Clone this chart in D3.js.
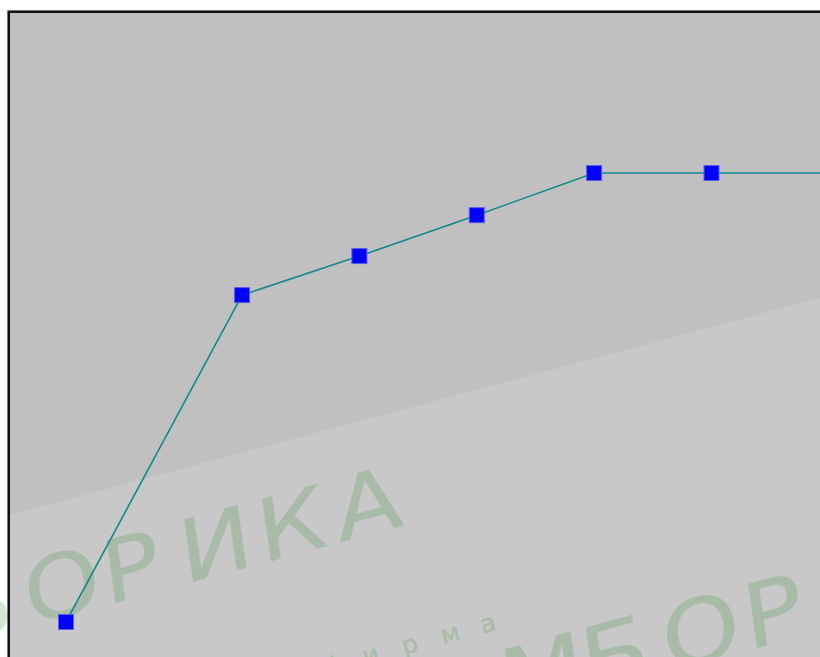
<!DOCTYPE html>
<html>
<head>
<meta charset="utf-8">
<script src="https://cdn.jsdelivr.net/npm/d3@7/dist/d3.min.js"></script>
<style>
  html, body { margin: 0; padding: 0; background: #ffffff; overflow: hidden; }
  svg { display: block; }
</style>
</head>
<body>
<svg id="chart" width="820" height="657"></svg>
<script>
// ---- data ----
const xValues = [0, 1.5, 2.5, 3.5, 4.5, 5.5, 6.5];
const yValues = [0, 72.8, 81.5, 90.6, 100, 100, 100];
const watermarkWords = ["БОРИКА", "фирма", "МБОРИКА"];

const W = 820, H = 657;
const svg = d3.select("#chart");

// scales (plot region extends beyond the visible window on right/bottom)
const x = d3.scaleLinear().domain([0, 5.5]).range([66, 711.5]);
const y = d3.scaleLinear().domain([0, 100]).range([622, 173]);

// plot background
const frameX = 9, frameY = 12;
svg.append("rect").attr("x", frameX).attr("y", frameY)
  .attr("width", W - frameX + 10).attr("height", H - frameY + 10)
  .attr("fill", "#c0c0c0");

// lighter diagonal band (decoration)
const slope = Math.tan(15 * Math.PI / 180);
const bx0 = 10, by0 = 515;
svg.append("path")
  .attr("d", `M${bx0},${by0} L${W + 5},${by0 - slope * (W + 5 - bx0)} L${W + 5},${H + 5} L${bx0},${H + 5} Z`)
  .attr("fill", "#c8c8c8");

// watermark (rotated -15deg)
const wm = svg.append("g").attr("transform", "rotate(-15)");

function wmText(str, u0, adv, v, size, sw, skew, sx) {
  const xs = Array.from(str).map((c, i) => (i * adv) / sx).join(" ");
  wm.append("g").attr("transform", `translate(${u0},${v}) skewX(${skew}) scale(${sx},1)`)
    .append("text")
    .attr("x", xs).attr("y", 0)
    .attr("font-family", "DejaVu Sans, sans-serif")
    .attr("font-size", size)
    .attr("fill", "#2e8b2e")
    .attr("stroke", "#2e8b2e")
    .attr("stroke-width", sw)
    .attr("stroke-linejoin", "round")
    .attr("opacity", 0.2)
    .text(str);
}
wmText(watermarkWords[0], -215, 80.5, 612, 86, 0.4, -7, 1.15);
wmText(watermarkWords[1], 140, 40.5, 737, 25, 0.4, 0, 1);
wmText(watermarkWords[2], 302, 84, 822, 88, 0.4, -7, 1.15);

// frame (left + top)
svg.append("path")
  .attr("d", `M${frameX},${H + 5} L${frameX},${frameY} L${W + 5},${frameY}`)
  .attr("fill", "none").attr("stroke", "#111").attr("stroke-width", 2);
svg.append("path")
  .attr("d", `M${frameX - 1.5},${H + 5} L${frameX - 1.5},${frameY - 1.5} L${W + 5},${frameY - 1.5}`)
  .attr("fill", "none").attr("stroke", "#777").attr("stroke-width", 1);

// line
const pts = xValues.map((d, i) => [d, yValues[i]]);
svg.append("path")
  .datum(pts)
  .attr("fill", "none")
  .attr("stroke", "#108a88")
  .attr("stroke-width", 1.6)
  .attr("d", d3.line().x(d => x(d[0])).y(d => y(d[1])));

// markers
svg.append("g").selectAll("rect").data(pts).join("rect")
  .attr("x", d => x(d[0]) - 7.5)
  .attr("y", d => y(d[1]) - 7.5)
  .attr("width", 15).attr("height", 15)
  .attr("fill", "#0000ff")
  .attr("stroke", "#5a5af0").attr("stroke-width", 1);
</script>
</body>
</html>
